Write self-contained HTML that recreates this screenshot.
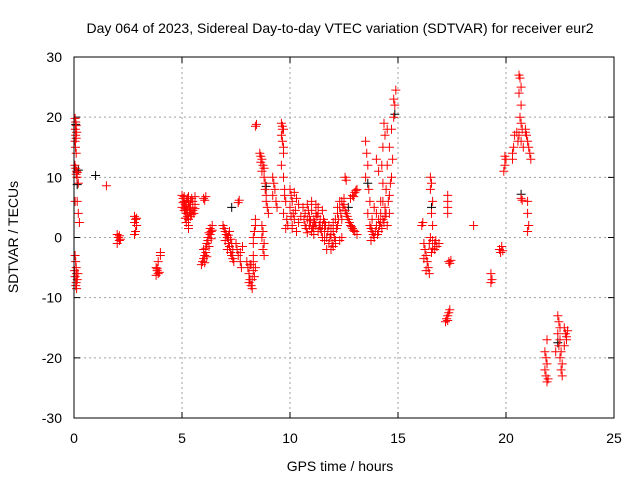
<!DOCTYPE html>
<html><head><meta charset="utf-8"><style>
html,body{margin:0;padding:0;background:#fff}
svg{display:block;font-family:"Liberation Sans",sans-serif}
</style></head><body>
<svg id="chart" width="640" height="480" viewBox="0 0 640 480">
<rect width="640" height="480" fill="#fff"/>
<text x="340" y="33" font-size="14" text-anchor="middle">Day 064 of 2023, Sidereal Day-to-day VTEC variation (SDTVAR) for receiver eur2</text>
<text x="340" y="471" font-size="14" text-anchor="middle">GPS time / hours</text>
<text x="18" y="237" font-size="14" text-anchor="middle" transform="rotate(-90 18 237)">SDTVAR / TECUs</text>
<g id="grid"></g>
<g id="ticks"></g>
<g id="marks"></g>
<rect x="74" y="57" width="540" height="361" fill="none" stroke="#000" stroke-width="1"/>
</svg>
<script>
const xTicks = [0,5,10,15,20,25];
const yTicks = [-30,-20,-10,0,10,20,30];
const redSeries = [
[0.05,19.8],[0.08,19.2],[0.1,18.6],[0.06,18],[0.12,17.5],[0.08,17],[0.1,16.5],[0.05,16],[0.07,15],[0.1,14],[0.04,12],[0.08,11.5],[0.12,11],[0.15,10.8],[0.1,10.5],[0.14,10],[0.2,9],[0.05,6],[0.15,6],[0.2,4],[0.25,2.5],[0.05,-3],[0.08,-4],[0.1,-5],[0.12,-6],[0.05,-6.5],[0.15,-7],[0.1,-7.5],[0.08,-8],[0.12,-8.5],[0.03,-5.5],[0.18,-6],
[1.5,8.6],
[2.0,0.5],[2.05,0],[2.1,-0.5],[2.0,-1],[2.15,-0.3],[2.1,0.3],
[2.8,3.5],[2.85,3],[2.8,2.5],[2.9,2],[2.85,1],[2.8,0.5],[2.9,3.2],
[3.8,-5],[3.85,-5.5],[3.9,-6],[3.8,-6.3],[3.95,-5.8],[3.9,-4],[4.0,-3],[4.0,-2.5],[3.85,-5.2],
[5.0,7],[5.05,6.5],[5.1,6],[5.15,5.5],[5.0,5],[5.1,4.5],[5.2,4],[5.25,3.5],[5.3,3],[5.2,2.5],[5.3,2],[5.1,6.8],[5.2,6.2],[5.3,5.8],[5.35,5],[5.4,4.5],[5.45,6.5],[5.5,6],[5.5,5],[5.55,4],[5.4,3.5],[5.6,6.8],[5.6,5.5],[5.3,1.5],[5.25,6.5],[5.45,3.8],[5.15,4.8],[5.05,5.8],[5.2,5.2],[5.35,4.2],[5.5,4.5],[5.6,4.8],[5.4,6],[5.3,6.8],[5.25,4.6],[5.15,3.2],
[6.0,6.5],[6.1,6.8],[6.05,6.2],
[5.9,-4.5],[5.95,-4],[6.0,-3.5],[6.05,-3],[6.0,-2],[6.1,-2.5],[6.15,-1],[6.2,0],[6.25,-1.5],[6.3,0.5],[6.35,1],[6.4,2],[6.3,1.5],[6.2,-0.5],[6.1,-1.8],[6.4,1.2],[6.15,-3.2],[6.05,-4.2],[6.25,0.8],[6.35,-0.2],
[6.9,2],[6.95,1.5],[7.0,1],[7.05,0.5],[7.1,0],[7.0,-0.5],[7.15,-1],[7.2,-1.5],[7.1,-2],[7.25,-2.5],[7.3,-3],[7.35,-3.5],[7.4,-4],[7.3,-1],[7.2,1],[7.25,-0.3],[7.35,-2],[7.15,0.4],
[7.6,5.8],[7.65,6.2],
[7.5,-1],[7.55,-2],[7.6,-3],[7.7,-4],[7.75,-5],[7.8,-1.5],[7.7,-2.5],
[8.0,-4],[8.05,-5],[8.1,-6],[8.15,-7],[8.2,-8],[8.25,-8.5],[8.1,-7.5],[8.3,-4],[8.2,-4.5],[8.3,-5.5],[8.35,-6.5],[8.3,-3],[8.3,-1],[8.35,1],[8.4,2],[8.4,3],[8.3,0],[8.15,-4.5],[8.25,-7],[8.4,-5],
[8.4,18.5],[8.45,18.8],
[8.6,14],[8.65,13.5],[8.7,13],[8.75,12],[8.8,10],[8.7,11],[8.85,8],[8.9,6],[8.95,5],[9.0,4],[8.7,2],[8.75,1],[8.7,0],[8.8,-1],[8.75,-2],[8.8,-3],[8.9,7],[8.65,12.5],[8.8,11.5],[8.85,9],
[9.2,10],[9.25,9],[9.3,8],[9.2,7],[9.35,6],[9.4,5],
[9.6,19],[9.65,18.5],[9.7,18],[9.6,17],[9.65,16],[9.7,14],[9.6,12],[9.7,10],[9.75,8],[9.8,6],[9.7,4],[9.85,3],[9.9,2],[9.8,1.5],[9.75,7],[9.65,18],[9.7,15],
[10.0,8],[10.05,7],[10.1,6],[10.0,5],[10.15,4],[10.2,3],[10.1,2],[10.3,1],[10.25,4.5],[10.4,2.5],[10.5,3.5],[10.4,5.5],[10.3,6.5],[10.2,7.5],[10.05,3.5],[10.1,1.5],
[10.6,5],[10.7,4],[10.8,3],[10.9,2],[11.0,1],[10.7,2],[10.8,5.5],[11.0,4.5],[11.1,3],[11.2,2],[11.3,1],[11.1,0.5],[11.2,4],[11.4,3],[11.3,5],[11.5,2],[11.6,1],[11.7,0],[11.8,-1],[11.7,-2],[11.6,-0.5],[11.9,0.5],[11.8,2],[12.0,1],[12.1,3],[12.2,4],[12.3,5],[12.4,6],[12.2,2],[12.0,-1.5],[11.9,-2],[12.5,5.5],[12.6,4],[12.7,3],[12.8,2],[12.9,1.5],[13.0,1],[13.1,0.5],[12.8,6.5],[12.9,7],[13.0,7.5],[13.1,8],[12.6,9.5],[12.55,10],[11.5,4.5],[11.0,6],[10.9,3.5],[12.4,0],[12.3,-0.5],[12.1,-1],
[10.65,3],[10.75,1.5],[10.85,4.5],[10.95,2.8],[11.05,1.8],[11.15,2.5],[11.25,3.5],[11.35,2],[11.45,1],[11.55,3],[11.65,2],[11.75,1],[11.85,0],[11.95,-1],[12.05,0],[12.15,1.5],[12.25,3],[12.35,4],[12.45,5],[12.55,4.5],[12.65,3.5],[12.75,2.5],[12.85,1.8],[12.95,1.2],[11.3,4],[11.2,5.5],[11.4,1.5],[11.6,2.5],[11.9,1.5],[12.0,2.5],[12.2,5],[12.3,6],[12.4,3],[12.5,6.5],[13.05,7.8],[12.95,6.8],[11.1,1.5],[10.8,0.8],[11.5,0],[12.1,-0.5],
[13.5,16],[13.55,14],[13.6,12],[13.5,10],[13.65,8],[13.7,6],[13.6,4],[13.7,2],[13.8,1],[13.9,0],[13.75,-0.5],[13.8,3],[13.9,5],[14.0,2],[14.1,1],[14.0,4],[14.2,6],[14.3,9],[14.25,12],[14.3,15],[14.4,17],[14.35,19],[14.5,18],[14.6,15],[14.5,12],[14.45,8],[14.4,5],[14.3,3],[14.2,2.5],[14.6,7],[14.7,10],[14.8,20],[14.85,22],[14.9,24.5],[14.8,23],[14.7,18],[14.6,4],[14.5,2],[14.4,3.5],[14.1,11],[14.0,13],
[13.75,1.5],[13.85,0.5],[13.95,1],[14.05,0.5],[14.15,2],[14.25,1.5],[14.35,2.5],[14.45,4],[14.55,6],[14.65,9],[14.75,13],[14.3,6],[14.2,4],[14.1,3],
[16.1,2],[16.15,2.5],
[16.2,-1],[16.25,-2],[16.3,-3],[16.35,-4],[16.4,-5],[16.45,-6],[16.3,-5.5],[16.2,-3.5],
[16.5,10],[16.55,9],[16.5,8],[16.6,6],[16.55,4],[16.6,2],[16.5,0],[16.6,-0.5],[16.7,-1],[16.8,-1.5],[16.9,-1],[16.7,-2],[16.6,-1.8],[16.75,-0.5],[16.45,-1],[16.55,-2.5],
[17.3,7],[17.3,6],[17.3,5],[17.3,4],
[17.35,-4],[17.4,-4.3],[17.45,-3.8],
[17.2,-14],[17.25,-13.5],[17.3,-13],[17.35,-12.5],[17.4,-12],[17.3,-13.8],
[18.5,2],
[19.3,-6],[19.35,-7],[19.3,-7.5],
[19.7,-2],[19.75,-2.5],[19.8,-1.5],[19.85,-2.2],
[19.9,11],[19.95,12],[20.0,13],[19.95,13.5],
[20.3,13],[20.35,15],[20.4,17],[20.3,14],
[20.6,27],[20.65,26.5],[20.7,25],[20.6,24],[20.7,22],[20.65,20],[20.7,19],[20.75,18],[20.6,17],[20.7,16],[20.8,15],[20.5,17.5],[20.55,16],
[20.9,18],[20.95,17],[21.0,16],[21.05,15],[21.1,14],[21.15,13],[20.9,17.5],
[20.7,6.5],[20.75,6.2],[21.0,6],[21.0,4],[21.05,2],[21.0,1],
[21.8,-19],[21.85,-20],[21.9,-21],[21.8,-22],[21.85,-23],[21.9,-24],[21.95,-23.5],[21.9,-17],
[22.4,-13],[22.45,-14],[22.5,-15],[22.4,-16],[22.5,-17],[22.45,-18],[22.55,-19],[22.5,-20],[22.6,-21],[22.55,-22],[22.6,-23],[22.7,-15],[22.75,-16],[22.8,-17],[22.7,-18],[22.85,-15.5],[22.8,-16.5],[22.3,-19]
];
const blackSeries = [[0.08,18.8],[0.2,11.2],[1.0,10.3],[0.15,8.8],[7.3,5],[8.9,8.5],[13.6,9],[14.85,20.5],[16.55,5],[20.7,7.2],[22.4,-17.5],[12.7,5]];

const X0=74,X1=614,Y0=418,Y1=57;
const xScale=t=>X0+(t-0)/(25-0)*(X1-X0);
const yScale=v=>Y0-(v+30)/60*(Y0-Y1);
const NS="http://www.w3.org/2000/svg";
const grid=document.getElementById('grid'),ticks=document.getElementById('ticks'),marks=document.getElementById('marks');
function mk(tag,attrs,parent){const e=document.createElementNS(NS,tag);for(const k in attrs)e.setAttribute(k,attrs[k]);parent.appendChild(e);return e;}
xTicks.forEach(t=>{
  const x=xScale(t);
  if(t>0&&t<25){const g=mk('line',{x1:x,x2:x,y1:Y1,y2:Y0,stroke:'#a0a0a0','stroke-dasharray':'2,3'},grid);
  
  }
  const tk=mk('path',{d:`M${x},${Y0}v-6M${x},${Y1}v6`,stroke:'#000'},ticks);
  
  
  const l=mk('text',{x:x,y:443,'font-size':14,'text-anchor':'middle'},ticks);l.textContent=t;
  
  
});
yTicks.forEach(v=>{
  const y=yScale(v);
  if(v>-30&&v<30){const g=mk('line',{x1:X0,x2:X1,y1:y,y2:y,stroke:'#a0a0a0','stroke-dasharray':'2,3'},grid);
  
  }
  const tk=mk('path',{d:`M${X0},${y}h6M${X1},${y}h-6`,stroke:'#000'},ticks);
  
  
  const l=mk('text',{x:62,y:y+5,'font-size':14,'text-anchor':'end'},ticks);l.textContent=v;
  
  
});
function plus(series,color,name){
  let d='';
  series.forEach(p=>{const x=xScale(p[0]),y=yScale(p[1]);d+=`M${(x-4.5).toFixed(1)},${y.toFixed(1)}h9M${x.toFixed(1)},${(y-4.5).toFixed(1)}v9`;});
  const e=mk('path',{d:d,stroke:color,'stroke-width':1,fill:'none'},marks);
  
  
}
plus(blackSeries,'#000','black-points');
plus(redSeries,'#ff0000','red-points');
</script>
</body></html>
